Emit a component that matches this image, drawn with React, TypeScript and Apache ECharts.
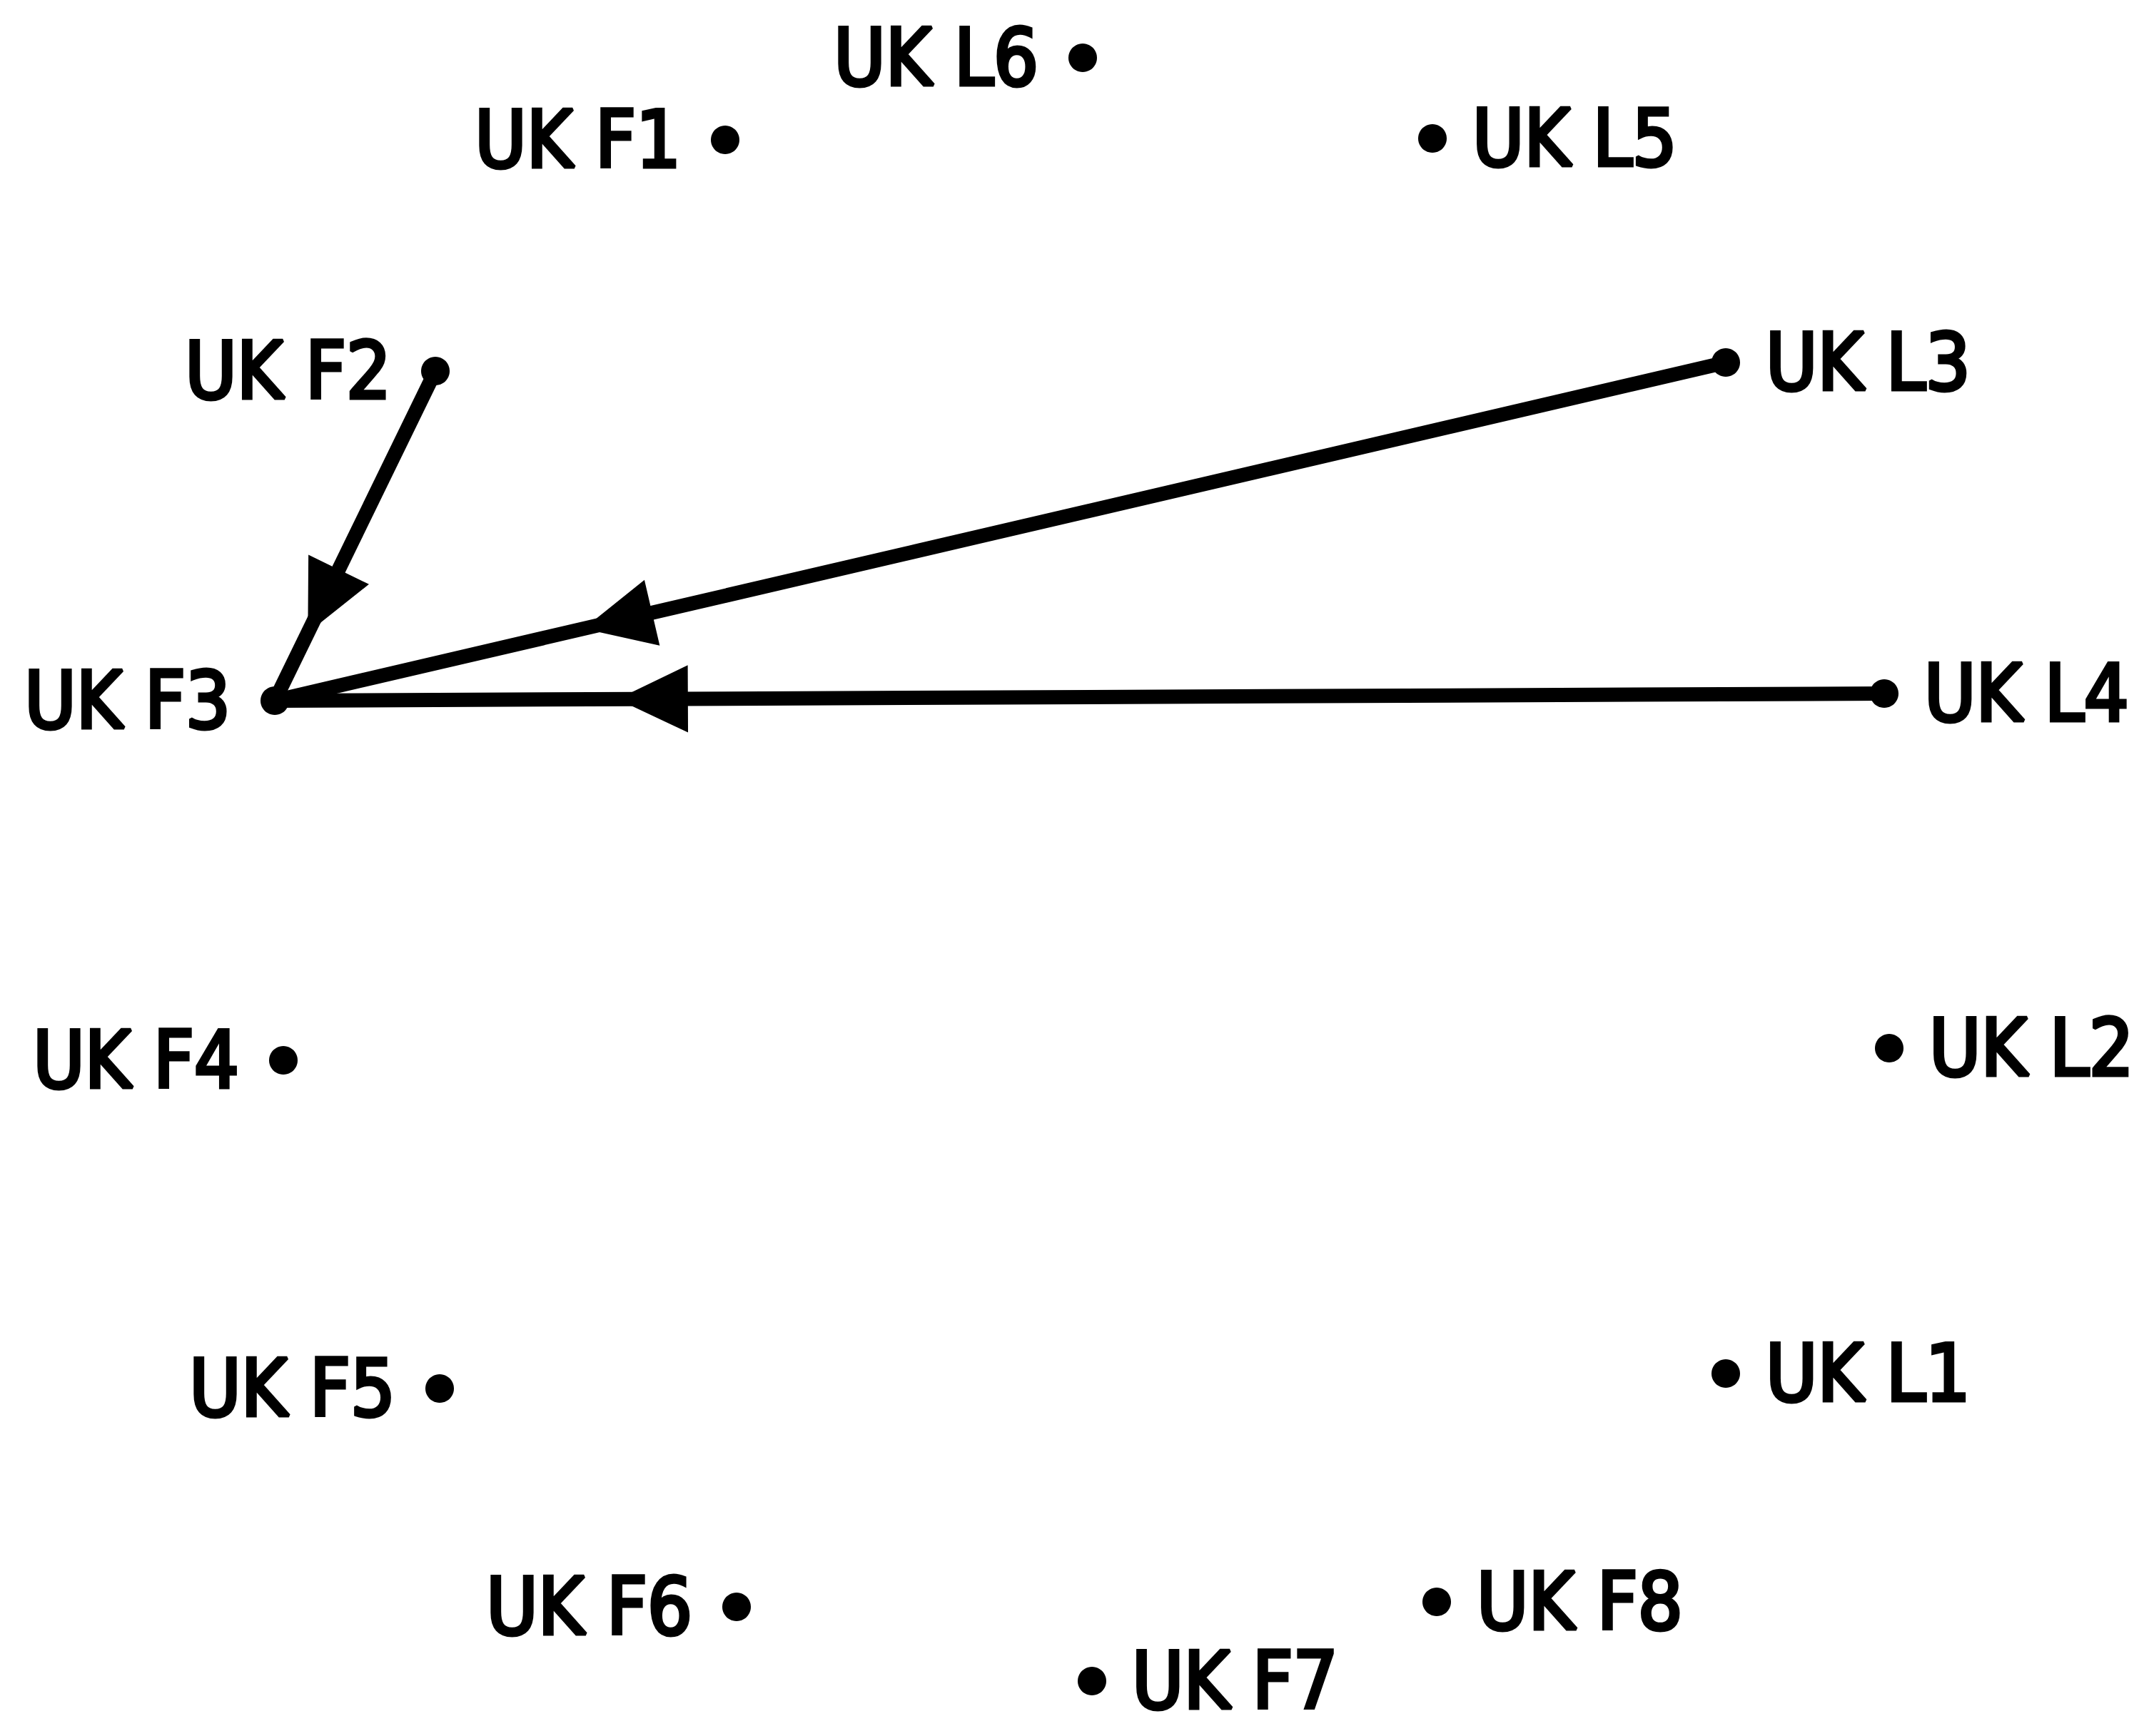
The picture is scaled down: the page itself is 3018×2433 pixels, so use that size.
import React, { useEffect, useRef } from "react";
import * as echarts from "echarts";

const W = 3018;
const H = 2433;

const nodeNames = [
  "UK L6", "UK F1", "UK L5", "UK F2", "UK L3", "UK F3", "UK L4",
  "UK F4", "UK L2", "UK F5", "UK L1", "UK F6", "UK F8", "UK F7",
];
const nodeX = [1517, 1016, 2007, 610, 2418, 385, 2640, 397, 2647, 616, 2418, 1032, 2013, 1530];
const nodeY = [81, 196, 194, 520, 508, 982, 972, 1486, 1469, 1946, 1925, 2252, 2245, 2356];
const labelSide = [
  "left", "left", "right", "left", "right", "left", "right",
  "left", "right", "left", "right", "left", "right", "right",
];

const edgeSource = ["UK F2", "UK L3", "UK L4"];
const edgeTarget = ["UK F3", "UK F3", "UK F3"];
const arrowFraction = 0.215; // arrow tip position, measured from target

export default function App() {
  const ref = useRef<HTMLDivElement>(null);

  useEffect(() => {
    document.body.style.margin = "0";
    document.body.style.background = "#fff";
    if (!ref.current) return;
    const chart = echarts.init(ref.current, undefined, { renderer: "svg" });

    const idx = (n: string) => nodeNames.indexOf(n);
    const graphData = nodeNames.map((name, i) => ({
      name,
      value: [nodeX[i], nodeY[i]],
      label: { position: labelSide[i], distance: labelSide[i] === "left" ? 42 : 36 },
    }));
    const links = edgeSource.map((s, i) => ({ source: s, target: edgeTarget[i] }));
    const arrowData = edgeSource.map((s, i) => {
      const a = idx(s);
      const b = idx(edgeTarget[i]);
      return [nodeX[a], nodeY[a], nodeX[b], nodeY[b]];
    });

    chart.setOption({
      animation: false,
      backgroundColor: "#ffffff",
      grid: { left: 0, right: 0, top: 0, bottom: 0 },
      xAxis: { type: "value", min: 0, max: W, show: false },
      yAxis: { type: "value", min: 0, max: H, inverse: true, show: false },
      series: [
        {
          type: "graph",
          coordinateSystem: "cartesian2d",
          layout: "none",
          symbol: "circle",
          symbolSize: 40,
          silent: true,
          itemStyle: { color: "#000" },
          label: {
            show: true,
            fontSize: 110,
            fontFamily: "DejaVu Sans Condensed",
            color: "#000",
            textBorderColor: "#000",
            textBorderWidth: 5,
          },
          lineStyle: { color: "#000", width: 20, opacity: 1, curveness: 0 },
          edgeSymbol: ["none", "none"],
          data: graphData,
          links,
          z: 2,
        },
        {
          type: "custom",
          coordinateSystem: "cartesian2d",
          silent: true,
          encode: { x: [0, 2], y: [1, 3] },
          data: arrowData,
          renderItem: (params: any, api: any) => {
            const s = api.coord([api.value(0), api.value(1)]);
            const t = api.coord([api.value(2), api.value(3)]);
            const dx = s[0] - t[0];
            const dy = s[1] - t[1];
            const len = Math.sqrt(dx * dx + dy * dy);
            const ux = dx / len;
            const uy = dy / len;
            const tipX = t[0] + dx * arrowFraction;
            const tipY = t[1] + dy * arrowFraction;
            const L = 92;
            const hw = 44;
            const bx = tipX + ux * L;
            const by = tipY + uy * L;
            return {
              type: "polygon",
              shape: {
                points: [
                  [tipX, tipY],
                  [bx - uy * hw, by + ux * hw],
                  [bx + uy * hw, by - ux * hw],
                ],
              },
              style: { fill: "#000", stroke: "#000", lineWidth: 4 },
            };
          },
          z: 3,
        },
      ],
    });

    return () => chart.dispose();
  }, []);

  return <div ref={ref} style={{ width: W, height: H }} />;
}
